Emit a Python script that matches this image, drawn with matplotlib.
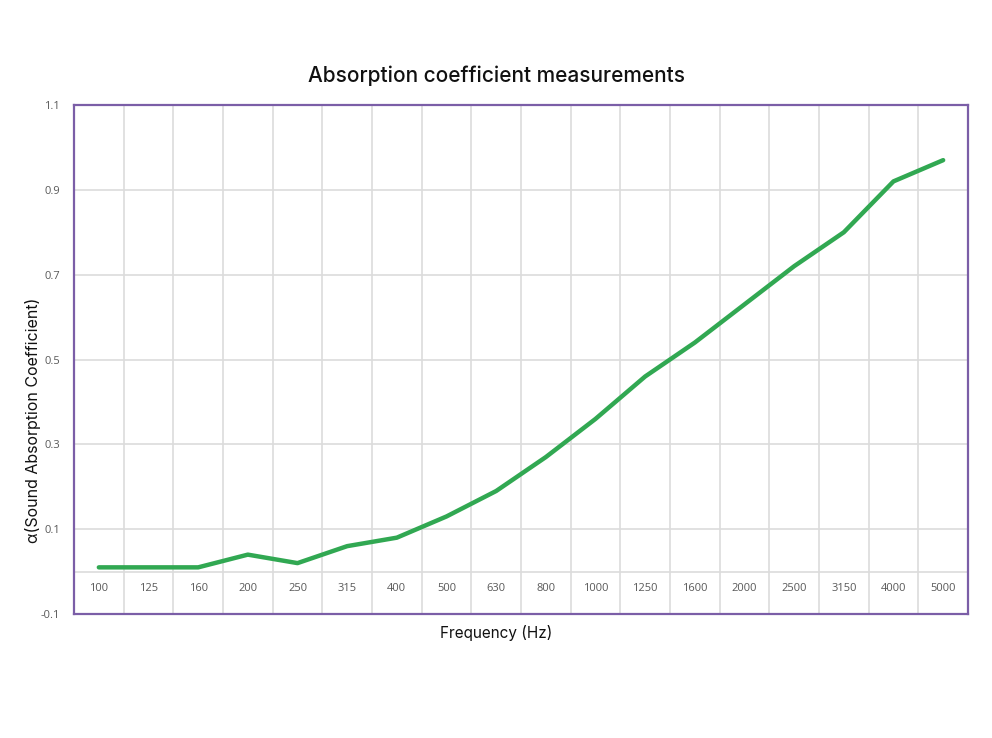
import matplotlib.pyplot as plt

# data
freqs = ['100', '125', '160', '200', '250', '315', '400', '500', '630', '800',
         '1000', '1250', '1600', '2000', '2500', '3150', '4000', '5000']
alpha = [0.01, 0.01, 0.01, 0.04, 0.02, 0.06, 0.08, 0.13, 0.19, 0.27,
         0.36, 0.46, 0.54, 0.63, 0.72, 0.80, 0.92, 0.97]
yticks = [-0.1, 0.1, 0.3, 0.5, 0.7, 0.9, 1.1]

purple = '#7b5ea7'
grid_c = '#dcdcdc'
text_c = '#595959'

fig = plt.figure(figsize=(9.92, 7.38), dpi=100)
ax = fig.add_axes([0.0746, 0.168, 0.9012, 0.6897])

x = range(len(freqs))
ax.plot(x, alpha, color='#31a852', lw=3.2, solid_capstyle='round', zorder=3)

ax.set_xlim(-0.5, len(freqs) - 0.5)
ax.set_ylim(-0.1, 1.1)

# horizontal grid at y ticks plus the category axis line at 0
ax.set_yticks(yticks)
ax.set_yticklabels([f'{v:g}' for v in yticks], fontsize=8, color=text_c,
                   family='Open Sans')
ax.tick_params(axis='y', length=0, pad=10)
for v in yticks[1:-1] + [0]:
    ax.axhline(v, color=grid_c, lw=1.2, zorder=1)

# vertical grid between categories
for b in range(1, len(freqs)):
    ax.axvline(b - 0.5, color=grid_c, lw=1.2, zorder=1)

# category labels sitting just under the zero line
ax.set_xticks([])
sec = ax.secondary_xaxis(0.1 / 1.2)
sec.set_xticks(list(x))
sec.set_xticklabels(freqs, fontsize=8, color=text_c, family='Open Sans')
sec.tick_params(axis='x', length=0, pad=8)
sec.spines['bottom'].set_visible(False)

for s in ax.spines.values():
    s.set_color(purple)
    s.set_linewidth(1.6)

fig.text(0.5, 0.898, 'Absorption coefficient measurements', ha='center',
         va='center', fontsize=15, family='Inter', weight='medium',
         color='#111111')
fig.text(0.5, 0.142, 'Frequency (Hz)', ha='center', va='center',
         fontsize=11, family='Inter', color='#111111')
fig.text(0.033, 0.43, 'α(Sound Absorption Coefficient)', ha='center',
         va='center', rotation=90, fontsize=11.5, family='Inter',
         color='#111111')

fig.savefig('out.png', dpi=100)
